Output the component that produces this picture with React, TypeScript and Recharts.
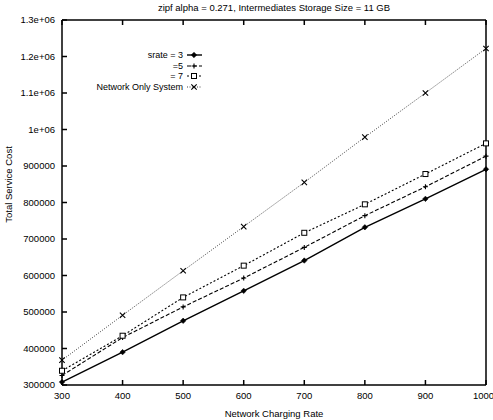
import React from 'react';
import { LineChart, Line, XAxis, YAxis } from 'recharts';

const rates = [300, 400, 500, 600, 700, 800, 900, 1000];
const srate3 = [308000, 390000, 476000, 558000, 641000, 732000, 810000, 891000];
const srate5 = [326000, 430000, 514000, 593000, 677000, 764000, 843000, 927000];
const srate7 = [339000, 435000, 540000, 627000, 717000, 795000, 878000, 962000];
const networkOnly = [368000, 491000, 613000, 734000, 855000, 979000, 1100000, 1222000];
const yTicks = [300000, 400000, 500000, 600000, 700000, 800000, 900000, 1000000, 1100000, 1200000, 1300000];
const seriesNames = ['srate = 3', '=5', '= 7', 'Network Only System'];
const title = 'zipf alpha = 0.271, Intermediates Storage Size = 11 GB';

const data = rates.map((r, i) => ({ rate: r, s3: srate3[i], s5: srate5[i], s7: srate7[i], net: networkOnly[i] }));

const FONT = '"Liberation Sans", Arial, sans-serif';

const fmtY = (v: number) => {
  if (v >= 1000000) {
    const m = v / 1000000;
    return (Number.isInteger(m) ? String(m) : m.toFixed(1)) + 'e+06';
  }
  return String(v);
};

const Diamond = (props: any) => {
  const { cx, cy } = props;
  if (cx == null || cy == null) return null;
  const s = 2.7;
  return <path d={`M${cx},${cy - s}L${cx + s},${cy}L${cx},${cy + s}L${cx - s},${cy}Z`} fill="#000" stroke="#000" strokeWidth={0.6} />;
};
const Plus = (props: any) => {
  const { cx, cy } = props;
  if (cx == null || cy == null) return null;
  const s = 2.5;
  return <path d={`M${cx - s},${cy}H${cx + s}M${cx},${cy - s}V${cy + s}`} stroke="#000" strokeWidth={1.1} fill="none" />;
};
const Square = (props: any) => {
  const { cx, cy } = props;
  if (cx == null || cy == null) return null;
  const s = 2.5;
  return <rect x={cx - s} y={cy - s} width={2 * s} height={2 * s} fill="#fff" stroke="#000" strokeWidth={1} />;
};
const Cross = (props: any) => {
  const { cx, cy } = props;
  if (cx == null || cy == null) return null;
  const s = 2.7;
  return <path d={`M${cx - s},${cy - s}L${cx + s},${cy + s}M${cx - s},${cy + s}L${cx + s},${cy - s}`} stroke="#000" strokeWidth={1.1} fill="none" />;
};

const styles = [
  { key: 's3', dash: undefined, color: '#000', width: 1.4, dot: Diamond },
  { key: 's5', dash: '4 2', color: '#000', width: 1.1, dot: Plus },
  { key: 's7', dash: '2 2', color: '#000', width: 1.1, dot: Square },
  { key: 'net', dash: '1 1.5', color: '#444', width: 1, dot: Cross },
];

export default function App() {
  const tickStyle = { fontSize: 9.5, fill: '#000', fontFamily: FONT };
  return (
    <div style={{ position: 'absolute', left: 0, top: 0, width: 493, height: 420, background: '#fff', fontFamily: FONT }}>
      <LineChart width={493} height={420} data={data} margin={{ top: 0, right: 0, bottom: 0, left: 0 }}>
        <XAxis
          xAxisId="b"
          dataKey="rate"
          type="number"
          domain={[300, 1000]}
          ticks={rates}
          height={35}
          tickSize={-5}
          tickMargin={12}
          stroke="#000"
          strokeWidth={1.5}
          tick={tickStyle}
          label={{ value: 'Network Charging Rate', position: 'insideBottom', offset: 3, style: { fontSize: 9.5, fill: '#000', fontFamily: FONT } }}
        />
        <XAxis
          xAxisId="t"
          orientation="top"
          dataKey="rate"
          type="number"
          domain={[300, 1000]}
          ticks={rates}
          height={20}
          tickSize={-5}
          tickMargin={0}
          stroke="#000"
          strokeWidth={1.5}
          tickFormatter={() => ''}
        />
        <YAxis
          yAxisId="l"
          type="number"
          domain={[300000, 1300000]}
          ticks={yTicks}
          width={62}
          tickSize={-5}
          tickMargin={12}
          stroke="#000"
          strokeWidth={1.5}
          tick={tickStyle}
          tickFormatter={fmtY}
          interval={0}
          label={{ value: 'Total Service Cost', angle: -90, position: 'insideLeft', offset: 9, dy: -18, style: { fontSize: 9.5, fill: '#000', fontFamily: FONT, textAnchor: 'middle' } }}
        />
        <YAxis
          yAxisId="r"
          orientation="right"
          type="number"
          domain={[300000, 1300000]}
          ticks={yTicks}
          width={7}
          tickSize={-5}
          tickMargin={0}
          stroke="#000"
          strokeWidth={1.5}
          tickFormatter={() => ''}
          interval={0}
        />
        {styles.map((s) => (
          <Line
            key={s.key}
            xAxisId="b"
            yAxisId="l"
            dataKey={s.key}
            stroke={s.color}
            strokeWidth={s.width}
            strokeDasharray={s.dash}
            dot={s.dot}
            activeDot={false}
            isAnimationActive={false}
          />
        ))}
      </LineChart>
      <div style={{ position: 'absolute', left: 62, width: 424, top: 2, textAlign: 'center', fontSize: 9.5, color: '#000', lineHeight: '12px' }}>
        {title}
      </div>
      <div style={{ position: 'absolute', left: 0, top: 50 }}>
        {styles.map((s, i) => {
          const D = s.dot;
          return (
            <div key={s.key} style={{ display: 'flex', alignItems: 'center', height: 10.5 }}>
              <div style={{ width: 183, textAlign: 'right', fontSize: 9, lineHeight: '10px', color: '#000' }}>{seriesNames[i]}</div>
              <svg width={20} height={10} style={{ marginLeft: 4 }}>
                <line x1={0} y1={5} x2={15} y2={5} stroke={s.color} strokeWidth={s.width} strokeDasharray={s.dash} />
                <D cx={7} cy={5} />
              </svg>
            </div>
          );
        })}
      </div>
    </div>
  );
}
